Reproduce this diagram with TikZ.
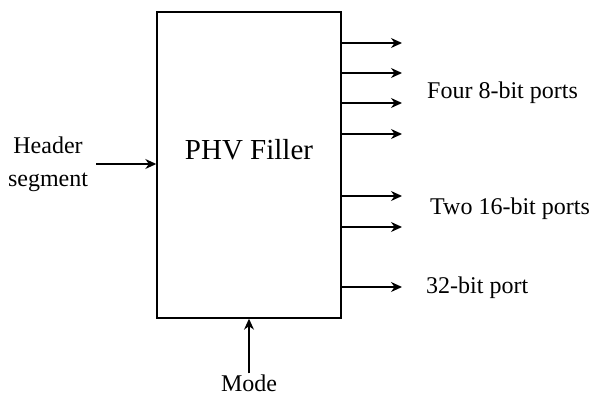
\documentclass[tikz,border=0pt]{standalone}
\usepackage{fontspec}
\setmainfont{Liberation Serif}
\usetikzlibrary{arrows.meta}

\begin{document}
\begin{tikzpicture}[x=1pt, y=-1pt,
    every node/.style={font=\fontsize{24}{33}\selectfont, inner sep=1pt},
    port/.style={line width=1.4pt, -{Stealth[length=11pt, width=10pt]}}]
  \useasboundingbox (0,0) rectangle (591,396);

  % PHV filler block
  \node[draw, line width=1.4pt, minimum width=184pt, minimum height=306pt] (phv) at (249,165) {};
  \node[font=\fontsize{29}{31}\selectfont] (phvtext) at (249,150) {PHV Filler};

  % Input
  \node[align=center] (header) at (48,164) {Header\\segment};
  \coordinate (hin) at (96,164);
  \draw[port] (hin) -- (hin -| phv.west);

  % Mode
  \node (mode) at (249,383) {Mode};
  \draw[port] (mode.north) -- (phv.south);

  % Output ports
  \foreach \y/\n in {43/a, 73/b, 103/c, 134/d, 196/e, 227/f, 287/g} {
    \coordinate (out\n) at (402,\y);
    \draw[port] (phv.east |- out\n) -- (out\n);
  }

  % Port labels
  \node[anchor=west] (four) at (426,93) {Four 8-bit ports};
  \node[anchor=west] (two) at (429,209) {Two 16-bit ports};
  \node[anchor=west] (single) at (425,288) {32-bit port};

\end{tikzpicture}
\end{document}
